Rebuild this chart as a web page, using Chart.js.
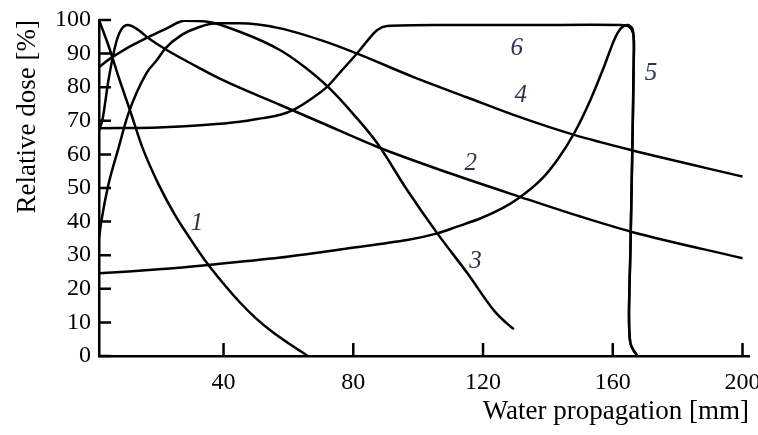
<!DOCTYPE html>
<html lang="en">
<head>
    <meta charset="UTF-8">
    <script src="https://cdnjs.cloudflare.com/ajax/libs/Chart.js/4.4.1/chart.umd.min.js"></script>
    <title>Relative dose</title>
    <style>
        body { margin: 0; background: #fff; }
    </style>
</head>
<body>
    <canvas id="doseChart" width="758" height="435"></canvas>

    <script>
    // tick values
    const xTicks = [40, 80, 120, 160, 200];
    const yTicks = [0, 10, 20, 30, 40, 50, 60, 70, 80, 90, 100];

    // curve 1
    const c1X = [1.6, 4.3, 8, 11.2, 15, 20, 25, 30, 35, 40, 45, 50, 55, 60, 63, 66];
    const c1Y = [100, 93, 82, 73, 62, 51, 42, 34.5, 27.5, 21.5, 16, 11.2, 7.2, 3.8, 1.9, 0];
    // curve 2
    const c2X = [1.6, 2.7, 4.5, 6.8, 8.5, 10.5, 13, 17, 22.6, 29.7, 40, 57.5, 70, 87.5, 110, 131.6, 150, 165.6, 200];
    const c2Y = [67, 70.5, 82, 93, 97.2, 98.5, 97.5, 94.5, 91, 87.2, 82, 74.7, 69.5, 62.2, 54.3, 47.3, 41.5, 37, 29.1];
    // curve 3
    const c3X = [1.6, 5, 10, 16, 22.5, 28, 35, 45, 57.5, 65, 72.3, 80, 87.4, 96.6, 105.9, 115.2, 123.4, 127, 129.5];
    const c3Y = [86, 88.5, 91.5, 94.5, 97.5, 99.8, 99.5, 96.5, 91, 86, 80, 72, 63.3, 49.4, 36.5, 24.6, 13.5, 10, 8];
    // curve 4
    const c4X = [1.6, 2.3, 4.5, 7.5, 10.6, 16.1, 19.4, 22, 27, 32.8, 38, 45, 57.5, 70, 81.2, 98.6, 115, 131.6, 148.1, 165.6, 200];
    const c4Y = [35, 40, 51, 61.5, 72, 84, 88, 91.5, 95.5, 98, 99, 99, 97.5, 94, 90, 83, 77, 71, 65.8, 61.3, 53.4];
    // curve 5
    const c5X = [1.6, 20, 35.3, 57.5, 78.1, 96.6, 105.9, 112, 119.3, 126, 131.6, 137.8, 143, 148.1, 153, 157.3, 160.4, 162.5, 164.6, 166, 166.5, 166.4, 166, 165.4, 165, 165.4, 166.5, 167.7];
    const c5Y = [24.6, 25.8, 27.1, 29.3, 32, 34.5, 36.5, 38.5, 41, 44, 47.4, 52.4, 58.5, 66.3, 76, 86.1, 94, 97.5, 98.5, 97.5, 94, 85, 60, 30, 12, 4, 1.5, 0];
    // curve 6
    const c6X = [1.6, 20, 35, 45, 52, 57.5, 62, 67, 71.9, 76, 81.2, 84.5, 87.4, 90.4, 110, 135, 162.5, 165, 166.3, 166.5, 166, 165.4, 165, 165.4, 166.5, 167.7];
    const c6Y = [67.8, 68, 68.8, 69.7, 70.8, 71.8, 73.5, 76.5, 80.1, 84.5, 90.1, 94, 97, 98.2, 98.5, 98.5, 98.5, 98, 96, 90, 60, 30, 12, 4, 1.5, 0];

    // curve numbers and where they are written (data units)
    const curveNames = ['1', '2', '3', '4', '5', '6'];
    const nameX = [31.8, 116.2, 117.7, 131.6, 171.8, 130.4];
    const nameY = [39.5, 57.3, 28, 77.7, 84.2, 91.6];

    const serif = '"Liberation Serif", "Times New Roman", serif';

    function curve(xs, ys, smooth) {
        return {
            data: xs.map((x, i) => ({ x: x, y: ys[i] })),
            borderColor: '#000',
            borderWidth: 2.5,
            pointRadius: 0,
            cubicInterpolationMode: smooth,
            tension: 0.3,
            fill: false
        };
    }

    // ticks pointing into the plot, plus the curve numbers
    const insideMarks = {
        id: 'insideMarks',
        afterDatasetsDraw(chart) {
            const ctx = chart.ctx;
            const x = chart.scales.x;
            const y = chart.scales.y;
            ctx.save();
            ctx.strokeStyle = '#000';
            ctx.lineWidth = 2.5;
            ctx.beginPath();
            yTicks.forEach(v => {
                const py = y.getPixelForValue(v);
                ctx.moveTo(x.left, py);
                ctx.lineTo(x.left + 12, py);
            });
            xTicks.forEach(v => {
                const px = x.getPixelForValue(v);
                ctx.moveTo(px, y.bottom);
                ctx.lineTo(px, y.bottom - 13);
            });
            ctx.stroke();

            ctx.font = 'italic 25px ' + serif;
            ctx.fillStyle = '#2f3446';
            ctx.textAlign = 'center';
            ctx.textBaseline = 'middle';
            curveNames.forEach((n, i) => {
                ctx.fillText(n, x.getPixelForValue(nameX[i]), y.getPixelForValue(nameY[i]));
            });
            ctx.restore();
        }
    };

    const ctx = document.getElementById('doseChart').getContext('2d');
    const doseChart = new Chart(ctx, {
        type: 'line',
        data: {
            datasets: [
                curve(c1X, c1Y, 'monotone'),
                curve(c2X, c2Y, 'monotone'),
                curve(c3X, c3Y, 'monotone'),
                curve(c4X, c4Y, 'monotone'),
                curve(c5X, c5Y, 'default'),
                curve(c6X, c6Y, 'default')
            ]
        },
        options: {
            responsive: false,
            animation: false,
            layout: { padding: { top: 20, right: 9, left: 0, bottom: 0 } },
            plugins: {
                legend: { display: false },
                tooltip: { enabled: false }
            },
            scales: {
                x: {
                    type: 'linear',
                    min: 1.6,
                    max: 202,
                    afterBuildTicks: s => { s.ticks = xTicks.map(v => ({ value: v })); },
                    afterFit: s => {
                        s.height = 79;
                        s.paddingLeft = 0;
                        s.paddingRight = 0;
                    },
                    grid: { drawOnChartArea: false, drawTicks: false },
                    border: { display: true, color: '#000', width: 2.5 },
                    ticks: {
                        color: '#000',
                        padding: 12,
                        maxRotation: 0,
                        autoSkip: false,
                        font: { family: serif, size: 24 }
                    },
                    title: {
                        display: true,
                        text: 'Water propagation [mm]',
                        align: 'end',
                        color: '#000',
                        font: { family: serif, size: 27 },
                        padding: { top: 0, bottom: 7 }
                    }
                },
                y: {
                    type: 'linear',
                    min: 0,
                    max: 100,
                    afterBuildTicks: s => { s.ticks = yTicks.map(v => ({ value: v })); },
                    afterFit: s => {
                        s.width = 99;
                        s.paddingTop = 0;
                        s.paddingBottom = 0;
                    },
                    grid: { drawOnChartArea: false, drawTicks: false },
                    border: { display: true, color: '#000', width: 2.5 },
                    ticks: {
                        color: '#000',
                        padding: 8,
                        autoSkip: false,
                        font: { family: serif, size: 24 }
                    },
                    title: {
                        display: true,
                        text: 'Relative dose [%]',
                        align: 'end',
                        color: '#000',
                        font: { family: serif, size: 27 },
                        padding: { top: 12, bottom: 0 }
                    }
                }
            }
        },
        plugins: [insideMarks]
    });
    </script>
</body>
</html>
